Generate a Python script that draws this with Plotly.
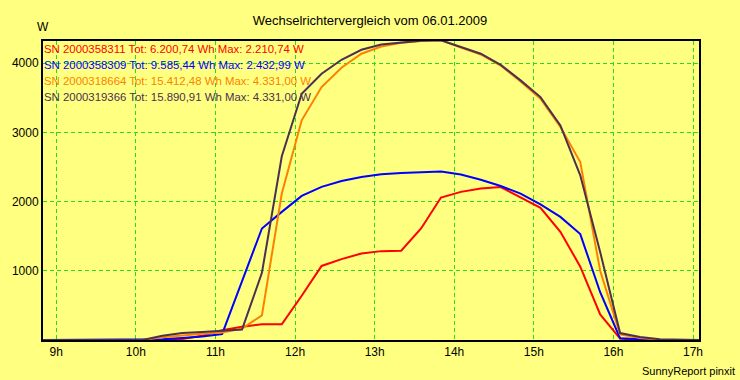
import plotly.graph_objects as go

times = ["08:50", "09:05", "09:20", "09:35", "09:50", "10:05", "10:20", "10:35", "10:50",
         "11:05", "11:20", "11:35", "11:50", "12:05", "12:20", "12:35", "12:50", "13:05",
         "13:20", "13:35", "13:50", "14:05", "14:20", "14:35", "14:50", "15:05", "15:20",
         "15:35", "15:50", "16:05", "16:20", "16:35", "16:50", "17:05"]

sn_2000358311 = [0, 0, 0, 0, 0, 0, 0, 15, 60, 140, 192, 226, 226, 640, 1070, 1168, 1250, 1284,
                 1290, 1611, 2058, 2140, 2188, 2210, 2060, 1910, 1563, 1060, 370, 20, 0, 0, 0, 0]
sn_2000358309 = [0, 0, 0, 0, 0, 0, 10, 30, 50, 86, 850, 1611, 1851, 2082, 2212, 2298, 2356, 2395,
                 2414, 2425, 2433, 2390, 2315, 2225, 2115, 1960, 1779, 1530, 690, 25, 10, 0, 0, 0]
sn_2000318664 = [0, 0, 0, 0, 0, 0, 40, 70, 90, 110, 165, 356, 2116, 3174, 3654, 3934, 4136, 4241,
                 4295, 4320, 4331, 4225, 4125, 3965, 3735, 3487, 3077, 2572, 1000, 80, 30, 5, 0, 0]
sn_2000319366 = [0, 0, 0, 0, 0, 0, 60, 100, 115, 130, 150, 970, 2654, 3559, 3847, 4049, 4193, 4270,
                 4303, 4325, 4331, 4232, 4136, 3975, 3751, 3510, 3101, 2380, 1270, 100, 45, 10, 0, 0]

legend_texts = [
    "SN 2000358311 Tot: 6.200,74 Wh Max: 2.210,74 W",
    "SN 2000358309 Tot: 9.585,44 Wh Max: 2.432,99 W",
    "SN 2000318664 Tot: 15.412,48 Wh Max: 4.331,00 W",
    "SN 2000319366 Tot: 15.890,91 Wh Max: 4.331,00 W",
]
x_tick_vals = [9, 10, 11, 12, 13, 14, 15, 16, 17]
x_tick_text = ["9h", "10h", "11h", "12h", "13h", "14h", "15h", "16h", "17h"]
y_tick_vals = [1000, 2000, 3000, 4000]

colors = ["#FF0000", "#0000FF", "#FF8000", "#4B3050"]
series = [sn_2000358311, sn_2000358309, sn_2000318664, sn_2000319366]

hours = [int(t[:2]) + int(t[3:]) / 60 for t in times]

FONT = "Liberation Sans, Arial, sans-serif"
fig = go.Figure()
for vals, col in zip(series, colors):
    fig.add_trace(go.Scatter(x=hours, y=vals, mode="lines",
                             line=dict(color=col, width=2), showlegend=False))

W, H = 740, 380
L, R, T, B = 40, 699, 41, 340
annotations = []
for i, (txt, col) in enumerate(zip(legend_texts, colors)):
    py = 48.7 + 16 * i
    annotations.append(dict(text=txt, xref="paper", yref="paper", x=0, xshift=-1,
                            y=1 - (py - T) / (B - T), xanchor="left", yanchor="middle",
                            showarrow=False, font=dict(family=FONT, size=11.4, color=col)))
annotations.append(dict(text="W", xref="paper", yref="paper", x=0, y=1 - (26.7 - T) / (B - T),
                        xanchor="center", yanchor="middle", showarrow=False,
                        font=dict(family=FONT, size=12, color="black")))
annotations.append(dict(text="SunnyReport pinxit", xref="paper", yref="paper",
                        x=(737 - L) / (R - L), y=1 - (370.7 - T) / (B - T),
                        xanchor="right", yanchor="middle", showarrow=False,
                        font=dict(family=FONT, size=11, color="black")))

fig.update_layout(
    width=W, height=H,
    margin=dict(l=L, r=W - R, t=T, b=H - B, pad=0),
    paper_bgcolor="#FFFF80", plot_bgcolor="#FFFF80",
    title=dict(text="Wechselrichtervergleich vom 06.01.2009", x=0.5, xref="container",
               y=1 - 20 / H, yanchor="middle", xanchor="center",
               font=dict(family=FONT, size=13, color="black")),
    font=dict(family=FONT, size=12, color="black"),
    annotations=annotations,
    xaxis=dict(range=[8.833, 17.075], tickvals=x_tick_vals, ticktext=x_tick_text,
               showgrid=True, gridcolor="#22DD22", griddash="4px,3px", gridwidth=1,
               showline=True, linecolor="black", linewidth=2, mirror=True,
               zeroline=False, ticks="", tickfont=dict(family=FONT, size=12, color="black")),
    yaxis=dict(range=[0, 4320], tickvals=y_tick_vals,
               showgrid=True, gridcolor="#22DD22", griddash="4px,3px", gridwidth=1,
               showline=True, linecolor="black", linewidth=2, mirror=True,
               zeroline=False, ticks="", tickfont=dict(family=FONT, size=12, color="black")),
)

fig.write_html("out.html", config={"displayModeBar": False},
               post_script="document.body.style.margin='0';document.body.style.background='#FFFF80';")
